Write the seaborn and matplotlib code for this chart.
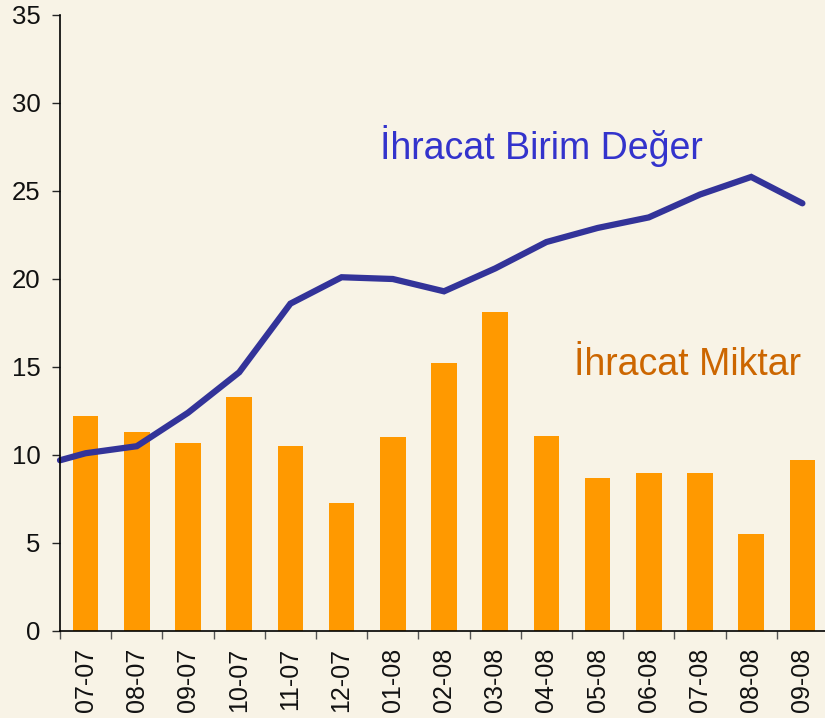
import matplotlib
matplotlib.use("Agg")
import matplotlib.pyplot as plt
import numpy as np
import pandas as pd
import seaborn as sns

# ── Data ──────────────────────────────────────────────────────────────────────
months = ["07-07", "08-07", "09-07", "10-07", "11-07", "12-07", "01-08", "02-08",
          "03-08", "04-08", "05-08", "06-08", "07-08", "08-08", "09-08"]
ihracat_miktar = [12.2, 11.3, 10.7, 13.3, 10.5, 7.3, 11.0, 15.2,
                  18.1, 11.1, 8.7, 9.0, 9.0, 5.5, 9.7]
ihracat_birim_deger = [10.1, 10.5, 12.4, 14.7, 18.6, 20.1, 20.0, 19.3,
                       20.6, 22.1, 22.9, 23.5, 24.8, 25.8, 24.3]
birim_deger_start = 9.7  # line begins at the left axis edge
y_ticks = [0, 5, 10, 15, 20, 25, 30, 35]

BG = "#F8F3E6"
BAR = "#FF9900"
LINE = "#333399"

sns.set_theme(style="ticks")
plt.rcParams["font.family"] = ["Liberation Sans", "DejaVu Sans"]

df = pd.DataFrame({"Ay": months, "Miktar": ihracat_miktar})

fig = plt.figure(figsize=(8.25, 7.18), dpi=100, facecolor=BG)
ax = fig.add_axes([60 / 825, 87 / 718, 768 / 825, 616 / 718])
ax.set_facecolor(BG)

sns.barplot(data=df, x="Ay", y="Miktar", color=BAR, saturation=1, width=0.5,
            edgecolor="none", linewidth=0, ax=ax)

x_line = np.concatenate([[-0.5], np.arange(len(months))])
y_line = np.concatenate([[birim_deger_start], ihracat_birim_deger])
ax.plot(x_line, y_line, color=LINE, lw=4.5, solid_capstyle="round",
        solid_joinstyle="miter", clip_on=False)

ax.set_xlim(-0.5, len(months) - 0.5)
ax.set_ylim(0, 35)
ax.set_yticks(y_ticks)
ax.set_xlabel("")
ax.set_ylabel("")

# x ticks sit between the categories, labels at the centres
ax.set_xticks(np.arange(len(months) + 1) - 0.5)
ax.set_xticklabels([])
ax.set_xticks(np.arange(len(months)), minor=True)
ax.set_xticklabels(months, minor=True, rotation=90, fontsize=18, color="#111111")
ax.tick_params(axis="x", which="minor", length=0, pad=12)
ax.tick_params(axis="x", which="major", length=6, width=1, color="#555555")
ax.tick_params(axis="y", length=6, width=1, labelsize=18.5, labelcolor="#111111", pad=8)

for s in ["top", "right"]:
    ax.spines[s].set_visible(False)
for s in ["left", "bottom"]:
    ax.spines[s].set_color("black")
    ax.spines[s].set_linewidth(1.2)

ax.text(0.417, 0.766, "İhracat Birim Değer", transform=ax.transAxes,
        color="#3333CC", fontsize=27, ha="left", va="baseline")
ax.text(0.669, 0.4156, "İhracat Miktar", transform=ax.transAxes,
        color="#CC6600", fontsize=27, ha="left", va="baseline")

fig.savefig("out.png", dpi=100, facecolor=BG)
